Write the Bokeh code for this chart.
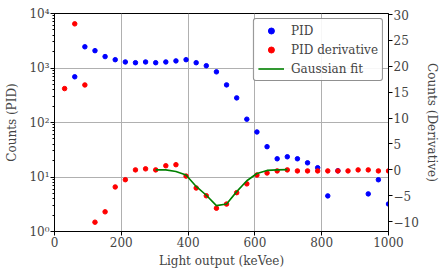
from bokeh.plotting import figure
from bokeh.models import (Range1d, LinearAxis, FixedTicker, CustomJSTickFormatter,
                          Legend, LegendItem, LinearScale)
from bokeh.embed import file_html
from bokeh.resources import INLINE

# ---- data ----
pid_x = [60.6, 90.9, 121.2, 151.5, 181.8, 212.1, 242.4, 272.7, 303.0, 333.3,
         363.6, 393.9, 424.2, 454.5, 484.8, 515.2, 545.5, 575.8, 606.1, 636.4,
         666.7, 697.0, 727.3, 757.6, 787.9, 818.2, 848.5, 939.4, 969.7, 1000.0]
pid_y = [690, 2450, 2080, 1620, 1420, 1290, 1250, 1290, 1250, 1290,
         1350, 1420, 1250, 1100, 850, 490, 283, 115, 67, 36,
         21.6, 23.5, 21.6, 18.2, 14.8, 4.5, 13, 4.9, 8.9, 3.2]

der_x = [30.3, 60.6, 90.9, 121.2, 151.5, 181.8, 212.1, 242.4, 272.7, 303.0,
         333.3, 363.6, 393.9, 424.2, 454.5, 484.8, 515.2, 545.5, 575.8, 606.1,
         636.4, 666.7, 697.0, 727.3, 757.6, 787.9, 818.2, 848.5, 878.8, 909.1,
         939.4, 969.7, 1000.0]
der_y = [15.7, 28.2, 16.4, -10.1, -8.1, -3.3, -1.9, 0.0, 0.2, 0.0,
         0.8, 1.0, -1.2, -3.5, -5.0, -7.4, -6.6, -4.4, -2.7, -1.0,
         -0.6, -0.2, 0.0, -0.2, -0.2, -0.2, -0.2, -0.2, -0.2, 0.0,
         0.0, -0.2, -0.2]

fit_x = [303.0, 333.3, 363.6, 393.9, 424.2, 454.5, 484.8, 515.2, 545.5, 575.8,
         606.1, 636.4, 666.7, 697.0]
fit_y = [0.0, 0.0, -0.3, -1.0, -3.2, -4.9, -6.9, -6.6, -4.2, -2.1,
         -0.7, -0.1, 0.0, 0.05]

x_ticks = [0, 200, 400, 600, 800, 1000]
right_ticks = [-10, -5, 0, 5, 10, 15, 20, 25, 30]

FONT = "DejaVu Serif"
FS = "12px"

p = figure(frame_width=334, frame_height=218, output_backend="svg", toolbar_location=None,
           y_axis_type="log", x_range=Range1d(0, 1000), y_range=Range1d(1, 10000),
           min_border_left=54, min_border_right=0, min_border_top=13,
           min_border_bottom=0)
p.outline_line_color = "black"
p.outline_line_width = 1
p.background_fill_color = "white"
p.border_fill_color = "white"

p.extra_y_ranges = {"d": Range1d(-11.9, 30.2)}
p.extra_y_scales = {"d": LinearScale()}

# grids
p.xgrid.grid_line_color = "#b0b0b0"
p.ygrid.grid_line_color = "#b0b0b0"
p.xgrid.ticker = FixedTicker(ticks=x_ticks)

# x axis
xa = p.xaxis[0]
xa.ticker = FixedTicker(ticks=x_ticks)
xa.axis_label = "Light output (keVee)"

# left axis
ya = p.yaxis[0]
ya.axis_label = "Counts (PID)"
ya.formatter = CustomJSTickFormatter(code="""
const sup = {"0":"\u2070","1":"\u00b9","2":"\u00b2","3":"\u00b3","4":"\u2074","-":"\u207b"};
const e = Math.round(Math.log10(tick));
return "10" + String(e).split("").map(c => sup[c]).join("");
""")

# right axis
ra = LinearAxis(y_range_name="d", axis_label="Counts (Derivative)",
                ticker=FixedTicker(ticks=right_ticks))
ra.formatter = CustomJSTickFormatter(code="""
return String(Math.round(tick)).replace("-", "\u2212");
""")
p.add_layout(ra, "right")

for ax in [xa, ya, ra]:
    ax.major_label_text_font = FONT
    ax.major_label_text_font_size = FS
    ax.axis_label_text_font = FONT
    ax.axis_label_text_font_size = FS
    ax.axis_label_text_font_style = "normal"
    ax.major_tick_out = 4
    ax.major_tick_in = 0
    ax.minor_tick_out = 2
    ax.minor_tick_in = 0
    ax.axis_line_color = "black"
    ax.major_tick_line_color = "black"
    ax.minor_tick_line_color = "black"
    ax.major_label_standoff = 1
    ax.axis_label_standoff = 2
xa.minor_tick_line_color = None
ra.minor_tick_line_color = None
xa.axis_label_standoff = 4
ya.axis_label_standoff = 7
ra.axis_label_standoff = 3

# data
r1 = p.scatter(x=pid_x, y=pid_y, size=4.5, color="#0000ff")
r2 = p.scatter(x=der_x, y=der_y, size=4.5, color="#ff0000", y_range_name="d")
r3 = p.line(x=fit_x, y=fit_y, line_width=1.6, color="#008000", y_range_name="d")

legend = Legend(items=[LegendItem(label="PID", renderers=[r1]),
                       LegendItem(label="PID derivative", renderers=[r2]),
                       LegendItem(label="Gaussian fit", renderers=[r3])],
                location="top_right")
legend.label_text_font = FONT
legend.label_text_font_size = FS
legend.border_line_color = "#222222"
legend.border_line_width = 1.8
legend.background_fill_alpha = 0.9
legend.glyph_width = 26
legend.glyph_height = 15
legend.label_standoff = 7
legend.padding = 4
legend.spacing = 4
legend.margin = 5
if "border_radius" in Legend.properties():
    legend.border_radius = 3
p.add_layout(legend)

html = file_html(p, INLINE)
with open("out.html", "w", encoding="utf-8") as f:
    f.write(html)
